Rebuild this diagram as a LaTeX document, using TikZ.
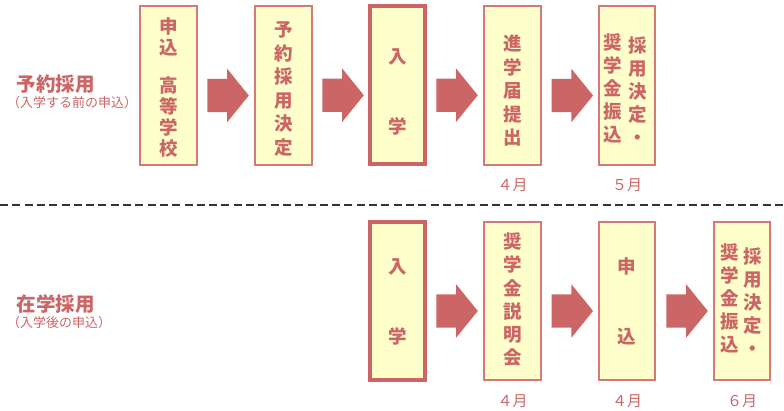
\documentclass[tikz,border=0pt]{standalone}
\usepackage{fontspec}
\newfontfamily\jp{Noto Sans CJK JP}
\usetikzlibrary{shapes.arrows,calc}
\definecolor{tc}{HTML}{CC6666}
\definecolor{bd}{HTML}{D67878}
\definecolor{fillc}{HTML}{FFFFCC}
\definecolor{dash}{HTML}{333333}
\begin{document}
\begin{tikzpicture}[x=1pt,y=-1pt,
 stepbox/.style={draw=bd, line width=2pt, fill=fillc, minimum width=56.5pt, minimum height=158.7pt, inner sep=0pt, outer sep=0pt},
 entrybox/.style={draw=tc, line width=4pt, fill=fillc, minimum width=54.4pt, minimum height=157.7pt, inner sep=0pt, outer sep=0pt},
 vtext/.style={text=tc, font=\jp\bfseries\fontsize{18.5}{#1}\selectfont, align=center, inner sep=0pt},
 fat/.style={single arrow, fill=tc, draw=none, minimum height=41.5pt, minimum width=0pt, inner xsep=0pt, inner ysep=16.5pt, single arrow head extend=10pt, single arrow tip angle=102, outer sep=0pt, anchor=tail},
 month/.style={text=tc, font=\jp\fontsize{15}{15}\selectfont, inner sep=0pt},
 title/.style={text=tc, font=\jp\bfseries\fontsize{19.5}{19.5}\selectfont, inner sep=0pt, anchor=west},
 sub/.style={text=tc, font=\jp\fontsize{13}{13}\selectfont, inner sep=0pt, anchor=west},
 sep/.style={draw=dash, line width=1.3pt, dash pattern=on 8pt off 4.3pt}]
\fill[white] (0,0) rectangle (784,410);
\useasboundingbox (0,0) rectangle (784,410);
% top row boxes
\node[stepbox] (a1) at (168.5,85.5) {};
\node[stepbox] (a2) at (283.5,85.5) {};
\node[entrybox] (a3) at (397.5,85) {};
\node[stepbox] (a4) at (512.5,85.5) {};
\node[stepbox] (a5) at (627,85.5) {};
% bottom row boxes
\node[entrybox] (b1) at (397.5,301) {};
\node[stepbox] (b2) at (512.5,301) {};
\node[stepbox] (b3) at (627,301) {};
\node[stepbox] (b4) at (742,301) {};
% arrows (placed by their tails)
\node[fat] (r1) at ($(a1.east)!0.5!(a2.west)+(-18.7,10)$) {};
\node[fat] (r2) at ($(a2.east)!0.5!(a3.west)+(-18.7,10)$) {};
\node[fat] (r3) at ($(a3.east)!0.5!(a4.west)+(-18.2,10)$) {};
\node[fat] (r4) at ($(a4.east)!0.5!(a5.west)+(-18.2,10)$) {};
\node[fat] (q1) at ($(b1.east)!0.5!(b2.west)+(-18.2,10)$) {};
\node[fat] (q2) at ($(b2.east)!0.5!(b3.west)+(-18.2,10)$) {};
\node[fat] (q3) at ($(b3.east)!0.5!(b4.west)+(-18.2,10)$) {};
% box texts top
\node[vtext=21] (t1a) at (168.5,36.5) {申\\込};
\node[vtext=21] (t1b) at (168.5,116.5) {高\\等\\学\\校};
\node[vtext=23.5] (t2) at (283.5,89) {予\\約\\採\\用\\決\\定};
\node[vtext=69.5] (t3) at (397.5,92) {入\\学};
\node[vtext=23.5] (t4) at (512.5,91) {進\\学\\届\\提\\出};
\node[vtext=23] (t5r) at (638,91) {採\\用\\決\\定\\・};
\node[vtext=23] (t5l) at (613,88.5) {奨\\学\\金\\振\\込};
% box texts bottom
\node[vtext=70] (u1) at (397.5,302) {入\\学};
\node[vtext=23.2] (u2) at (512.5,299.6) {奨\\学\\金\\説\\明\\会};
\node[vtext=70] (u3) at (627,301) {申\\込};
\node[vtext=23] (u4r) at (753,302) {採\\用\\決\\定\\・};
\node[vtext=23] (u4l) at (730,298) {奨\\学\\金\\振\\込};
% months
\node[month] (m1) at (512.5,185) {４月};
\node[month] (m2) at (627,185) {５月};
\node[month] (m3) at (512.5,401.5) {４月};
\node[month] (m4) at (627,401.5) {４月};
\node[month] (m5) at (742,401.5) {６月};
% titles
\node[title] (h1) at (16.5,84) {予約採用};
\node[sub] (s1) at (7,103) {（入学する前の申込）};
\node[title] (h2) at (16.5,304) {在学採用};
\node[sub] (s2) at (7,323) {（入学後の申込）};
% separator
\coordinate (dl) at (0,205);
\coordinate (dr) at (784,205);
\draw[sep] (dl) -- (dr);
\end{tikzpicture}
\end{document}
